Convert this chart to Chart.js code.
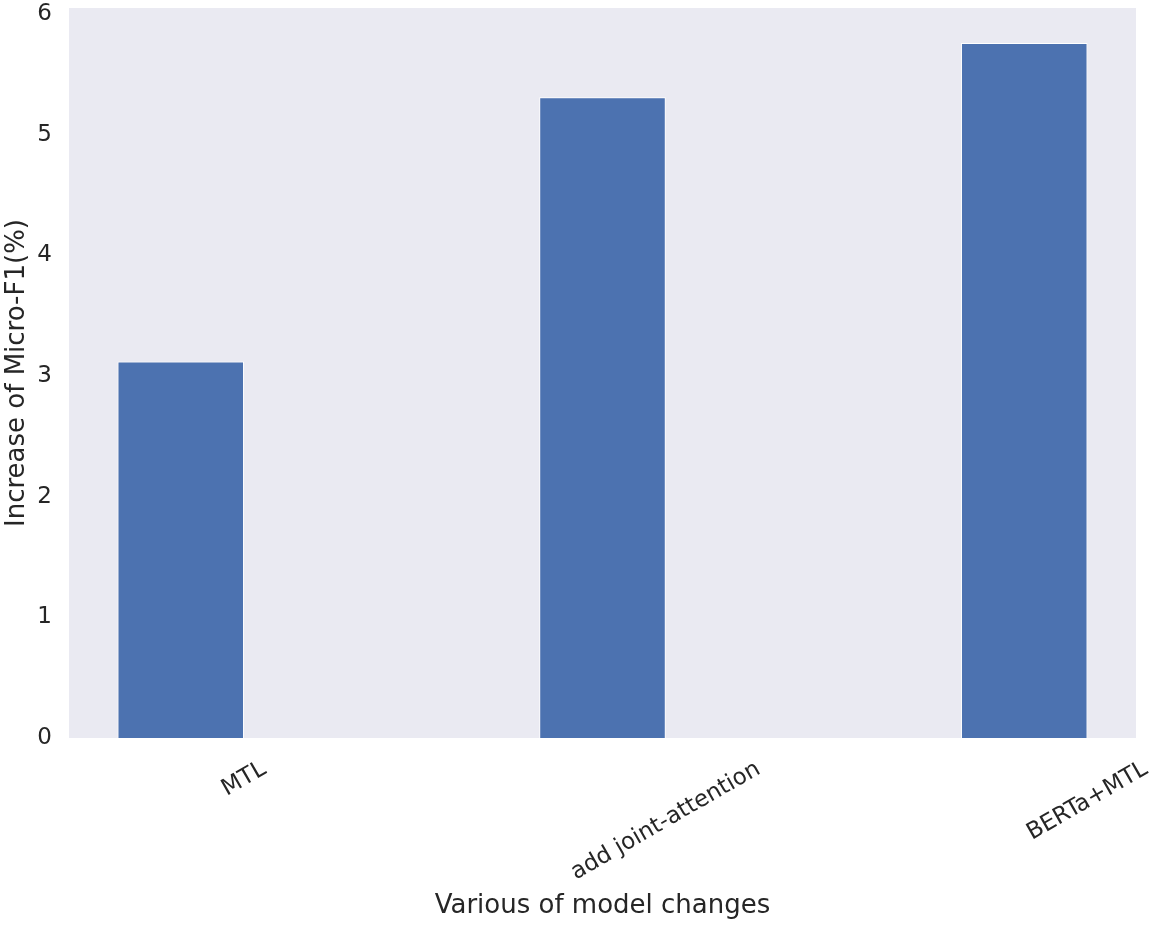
<!DOCTYPE html>
<html>
<head>
<meta charset="utf-8">
<script src="https://cdn.jsdelivr.net/npm/chart.js@4/dist/chart.umd.min.js"></script>
<style>
  html, body { margin: 0; padding: 0; background: #ffffff; }
  #wrap { width: 1155px; height: 925px; }
</style>
</head>
<body>
<div id="wrap"><canvas id="barChart"></canvas></div>
<script>
const categories = ["MTL", "add joint-attention", "BERTa+MTL"];
const increase = [3.12, 5.31, 5.76];
const yTicks = [0, 1, 2, 3, 4, 5, 6];
const barWidth = 0.3;

const textColor = "#262626";
const fontFamily = "'DejaVu Sans', sans-serif";

// seaborn-like grey panel behind the bars
const panelBg = {
    id: "panelBg",
    beforeDraw(chart) {
        const a = chart.chartArea;
        const ctx = chart.ctx;
        ctx.save();
        ctx.fillStyle = "#EAEAF2";
        ctx.fillRect(a.left, a.top, a.right - a.left, a.bottom - a.top);
        ctx.restore();
    }
};

// rotated category labels, centred on bar's right edge like the original
const xLabels = {
    id: "xLabels",
    afterDraw(chart) {
        const xs = chart.scales.x;
        const ctx = chart.ctx;
        const size = 23;
        ctx.save();
        ctx.font = size + "px " + fontFamily;
        ctx.fillStyle = textColor;
        ctx.textAlign = "center";
        ctx.textBaseline = "middle";
        categories.forEach((label, i) => {
            const px = xs.getPixelForValue(i + barWidth / 2);
            const len = ctx.measureText(label).width;
            const boxH = len * 0.5 + size * 0.95 * 0.866;
            const py = chart.chartArea.bottom + 20 + boxH / 2;
            ctx.save();
            ctx.translate(px, py);
            ctx.rotate(-Math.PI / 6);
            ctx.fillText(label, 0, 0);
            ctx.restore();
        });
        ctx.restore();
    }
};

const ctx = document.getElementById("barChart");
new Chart(ctx, {
    type: "bar",
    data: {
        datasets: [{
            label: "Increase of Micro-F1(%)",
            data: categories.map((c, i) => ({ x: i, y: increase[i] })),
            backgroundColor: "#4C72B0",
            borderColor: "#ffffff",
            borderWidth: 1,
            barPercentage: barWidth,
            categoryPercentage: 1
        }]
    },
    options: {
        responsive: true,
        maintainAspectRatio: false,
        animation: false,
        layout: { padding: { top: 8, right: 19, left: 0, bottom: 0 } },
        plugins: { legend: { display: false }, tooltip: { enabled: false } },
        scales: {
            x: {
                type: "linear",
                offset: false,
                min: -0.265,
                max: 2.265,
                grid: { display: false },
                border: { display: false },
                ticks: { display: false },
                afterBuildTicks(scale) { scale.ticks = categories.map((c, i) => ({ value: i })); },
                afterFit(scale) { scale.height = 187; },
                title: {
                    display: true,
                    text: "Various of model changes",
                    color: textColor,
                    font: { family: fontFamily, size: 26 },
                    padding: { top: 0, bottom: 3 }
                }
            },
            y: {
                min: 0,
                max: 6.05,
                grid: { display: false, drawTicks: false },
                border: { display: false },
                afterBuildTicks(scale) { scale.ticks = yTicks.map(v => ({ value: v })); },
                afterFit(scale) {
                    scale.width = 69;
                    scale.paddingTop = 0;
                    scale.paddingBottom = 0;
                },
                ticks: {
                    padding: 17,
                    color: textColor,
                    font: { family: fontFamily, size: 23 }
                },
                title: {
                    display: true,
                    text: "Increase of Micro-F1(%)",
                    color: textColor,
                    font: { family: fontFamily, size: 26 },
                    padding: { top: 2, bottom: 0 }
                }
            }
        }
    },
    plugins: [panelBg, xLabels]
});
</script>
</body>
</html>
